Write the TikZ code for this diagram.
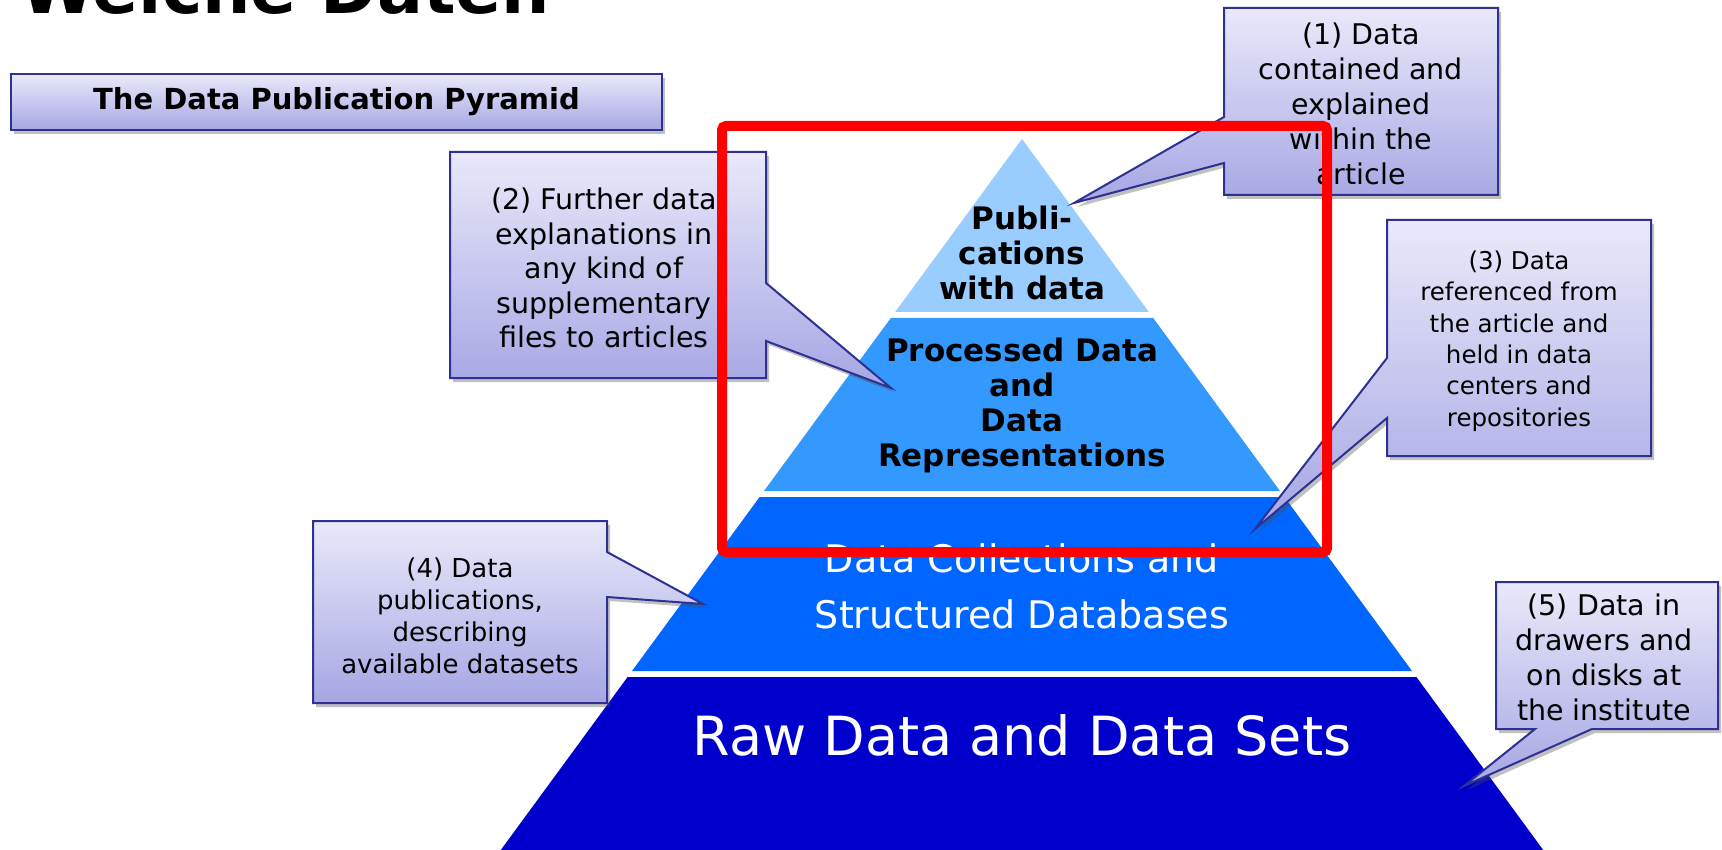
\documentclass[tikz,border=0pt]{standalone}
\usepackage{fontspec}
\setmainfont{DejaVu Sans}
\usetikzlibrary{shadows}
\definecolor{boxtop}{RGB}{233,233,250}
\definecolor{boxbot}{RGB}{166,166,228}
\definecolor{boxline}{RGB}{46,49,146}
\definecolor{layA}{RGB}{153,204,255}
\definecolor{layB}{RGB}{51,153,255}
\definecolor{layC}{RGB}{0,102,255}
\definecolor{layD}{RGB}{0,0,204}
\definecolor{hilite}{RGB}{255,0,0}
\tikzset{
  callout/.style={draw=boxline, line width=2pt, line join=miter, top color=boxtop, bottom color=boxbot,
    drop shadow={shadow xshift=3pt, shadow yshift=-4pt, opacity=0.35, fill=black!70}},
  ctext/.style={align=center, inner sep=0pt, text=black},
  ptext/.style={align=center, inner sep=0pt, font=\fontsize{31}{35}\selectfont\bfseries, text=black},
}
\begin{document}
\begin{tikzpicture}[x=1pt,y=-1pt]
\useasboundingbox (0,0) rectangle (1722,850);
\fill[white] (0,0) rectangle (1722,850);

% title (cut off at the top edge, as in the reference)
\node[anchor=base west, inner sep=0pt, font=\fontsize{68}{80}\selectfont\bfseries] (heading) at (20,14) {Welche Daten};

% subtitle box
\path[callout] (11,74) rectangle (662,130);
\node[ctext, font=\fontsize{29}{34}\selectfont\bfseries] (subtitle) at (336.5,102) {The Data Publication Pyramid};

% pyramid layers (apex 1022,139; slope 0.733)
\fill[layA] (1022,139) -- (1148.8,312) -- (895.2,312) -- cycle;
\fill[layB] (890.8,318) -- (1153.2,318) -- (1280,491) -- (764,491) -- cycle;
\fill[layC] (759.6,497) -- (1284.4,497) -- (1412,671) -- (632,671) -- cycle;
\fill[layD] (627.6,677) -- (1416.4,677) -- (1543.2,850) -- (500.8,850) -- cycle;

\node[ptext] (pub) at (1022,253) {Publi-\\cations\\with data};
\node[ptext] (proc) at (1022,405) {Processed Data\\and\\Data\\Representations};
\node[align=center, inner sep=0pt, text=white, font=\fontsize{38}{56}\selectfont] (coll) at (1022,586) {Data Collections and\\Structured Databases};
\node[inner sep=0pt, text=white, font=\fontsize{54}{64}\selectfont] (raw) at (1022,735) {Raw Data and Data Sets};

% callout 1
\path[callout] (1224,8) -- (1498,8) -- (1498,195) -- (1224,195) -- (1224,163) -- (1074,203) -- (1224,117) -- cycle;
\node[ctext, font=\fontsize{28.5}{35}\selectfont] (c1) at (1361,104) {(1) Data\\contained and\\explained\\within the\\article};

% callout 2
\path[callout] (450,152) -- (766,152) -- (766,283) -- (891,388) -- (766,341) -- (766,378) -- (450,378) -- cycle;
\node[ctext, font=\fontsize{28.5}{34.5}\selectfont] (c2) at (604,268) {(2) Further data\\explanations in\\any kind of\\supplementary\\files to articles};

% callout 3
\path[callout] (1387,220) -- (1651,220) -- (1651,456) -- (1387,456) -- (1387,418) -- (1255,529) -- (1387,358) -- cycle;
\node[ctext, font=\fontsize{24.5}{31.4}\selectfont] (c3) at (1519,341) {(3) Data\\referenced from\\the article and\\held in data\\centers and\\repositories};

% callout 4
\path[callout] (313,521) -- (607,521) -- (607,552) -- (703,604) -- (607,597) -- (607,703) -- (313,703) -- cycle;
\node[ctext, font=\fontsize{26}{32}\selectfont] (c4) at (460,616) {(4) Data\\publications,\\describing\\available datasets};

% callout 5
\path[callout] (1496,582) -- (1718,582) -- (1718,729) -- (1592,729) -- (1464,786) -- (1535,729) -- (1496,729) -- cycle;
\node[ctext, font=\fontsize{28.5}{35}\selectfont] (c5) at (1604,657) {(5) Data in\\drawers and\\on disks at\\the institute};

% red highlight
\draw[hilite, line width=10pt, rounded corners=4pt] (722,126) rectangle (1327,552);
\end{tikzpicture}
\end{document}
